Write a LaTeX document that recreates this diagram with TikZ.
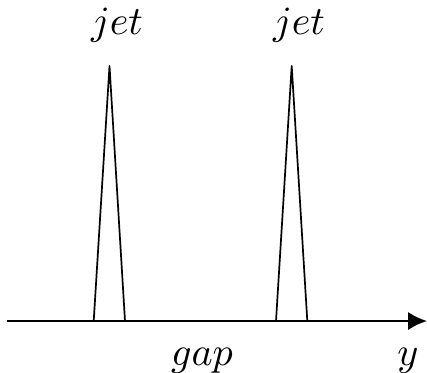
\documentclass[tikz,border=0pt]{standalone}
\usepackage{amsmath}
\usetikzlibrary{arrows.meta}
\tikzset{
  lbl/.style={anchor=base,inner sep=0pt,scale=1.06},
  spike/.style={draw,line width=0.45pt,line join=round},
  axis/.style={draw,line width=0.6pt,-{Latex[length=5pt,width=4.8pt]}},
}

\begin{document}
\begin{tikzpicture}[x=0.0093cm,y=-0.0093cm]
  \useasboundingbox (0,0) rectangle (427,372);
  % rapidity axis
  \coordinate (ystart) at (7,321);
  \coordinate (yend) at (427,321);
  \draw[axis] (ystart) -- (yend);
  % the two jets
  \coordinate (l1) at (93.7,321);
  \coordinate (t1) at (109.5,66);
  \coordinate (r1) at (125,321);
  \coordinate (l2) at (276,321);
  \coordinate (t2) at (291.7,66);
  \coordinate (r2) at (307.3,321);
  \draw[spike] (l1) -- (t1) -- (r1);
  \draw[spike] (l2) -- (t2) -- (r2);
  \node[lbl] (jet1) at (117,34) {$jet$};
  \node[lbl] (jet2) at (299,34) {$jet$};
  \node[lbl] (gap) at (202,365) {$gap$};
  \node[lbl] (ylab) at (408,365) {$y$};
\end{tikzpicture}
\end{document}
